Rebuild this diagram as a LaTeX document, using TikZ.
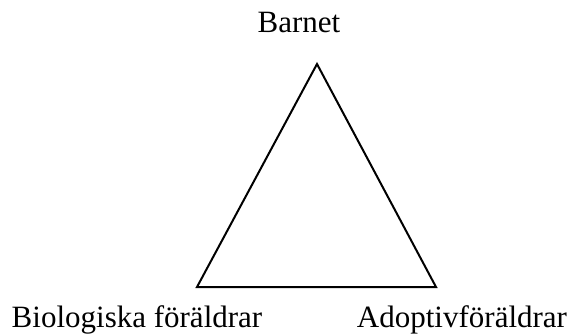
\documentclass[tikz,border=0pt]{standalone}
\usepackage{fontspec}
\setmainfont{Liberation Serif}
\begin{document}
\begin{tikzpicture}[x=1pt,y=-1pt,
  lbl/.style={inner sep=0pt,anchor=base,font=\fontsize{31}{36}\selectfont},
  edge/.style={line width=2pt,line join=miter}]
\useasboundingbox (0,0) rectangle (569,336);
\coordinate (top) at (317,64);
\coordinate (bl) at (197,287);
\coordinate (br) at (436,287);
\draw[edge] (top) -- (bl) -- (br) -- cycle;
\node[lbl] (barnet) at (299,33) {Barnet};
\node[lbl] (bio) at (137,327) {Biologiska föräldrar};
\node[lbl] (adopt) at (462,327) {Adoptivföräldrar};
\end{tikzpicture}
\end{document}
